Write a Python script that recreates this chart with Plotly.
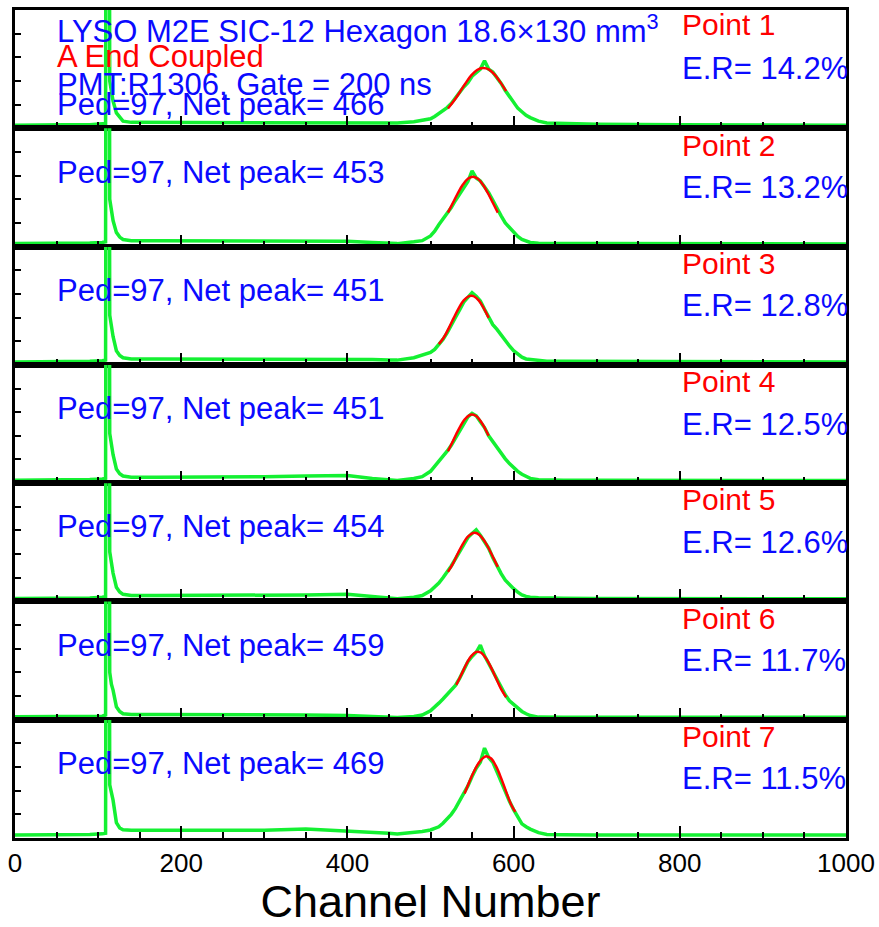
import plotly.graph_objects as go
from plotly.subplots import make_subplots

# ---------------- data ----------------
LOW_CH = [0, 30, 60, 90, 105, 109, 110, 113, 114, 116, 118, 122, 126, 130, 140, 170, 200, 250, 300, 350, 400, 430, 450]
PEAK_CH = [460, 480, 490, 500, 505, 510, 515, 520, 525, 530, 535, 540, 545, 550, 555, 560, 565, 570, 575,
           580, 585, 590, 595, 600, 605, 610, 615, 620, 630, 640, 660, 700, 800, 900, 1000]

low1 = [2.5, 3, 3, 3, 3.5, 4, 400, 400, 40, 30, 23, 13, 9, 6, 5, 5, 5, 4.5, 4.5, 4.5, 4.5, 4.5, 4.5]
low2 = [2.5, 2.5, 3, 3, 3.5, 4, 400, 400, 40, 30, 22, 12, 8, 6, 5, 5, 5, 5, 4.5, 4.5, 4.5, 3.5, 2.5]
low3 = [2.5, 2.5, 3, 3, 3.5, 4, 400, 400, 42, 32, 24, 12, 8, 6, 5, 5, 5, 5, 5, 5, 5, 4.5, 4]
low4 = [2.5, 2.5, 3, 3, 3.5, 4, 400, 400, 42, 32, 24, 12, 8, 6, 5, 5, 5, 5, 5.5, 6, 6.5, 4, 2.5]
low5 = [2.5, 2.5, 3, 3, 3.5, 4, 400, 400, 42, 32, 24, 12, 8, 6, 5, 5, 5, 5, 5, 5.5, 6, 4, 2.5]
low6 = [2.5, 2.5, 2.5, 3, 3, 4, 400, 400, 40, 30, 25, 11, 7, 5, 4.5, 4.5, 4.5, 4, 4, 4, 3.5, 2.5, 2]
low7 = [2.5, 2.5, 3, 3, 3.5, 4, 400, 400, 45, 38, 32, 13, 8.5, 7, 6.5, 6.5, 6.5, 6.5, 6.5, 7.5, 6, 5, 4]

peak1 = [4.5, 5.5, 6.5, 8, 10, 12.5, 14.5, 17.5, 21, 25.5, 31, 35, 38.5, 44, 47, 50, 57, 50, 47.5,
         43, 38, 32, 27, 21, 17, 14, 11, 9, 6, 4.5, 4, 3.5, 3, 3, 2.5]
peak2 = [2.5, 4, 5, 9, 13, 18.5, 23, 28, 33, 39, 44, 50, 55, 64, 58, 55.5, 51, 45.5, 39,
         32, 26, 20, 16, 12, 8.5, 6, 4.5, 3.5, 2.8, 2.5, 2.5, 2.5, 2.3, 2.3, 2.2]
peak3 = [4, 6, 8.5, 10.5, 13, 17, 21.5, 27, 33, 40, 46.5, 53, 57, 61, 58, 54, 47, 40, 34,
         30, 25, 20.5, 16, 12, 9, 6.5, 5, 4.5, 3.5, 3, 3, 3, 2.5, 2.5, 2.5]
peak4 = [2.3, 4, 5.5, 10, 14, 18, 22.5, 27, 32, 38, 43.5, 50, 56, 59, 57, 52, 47, 40, 35,
         30, 25, 20.5, 16.5, 13, 10, 7.5, 5.5, 4, 2.8, 2.5, 2.5, 2.5, 2.3, 2.3, 2.2]
peak5 = [2.3, 3.5, 5, 9, 12, 15.5, 20, 24.5, 30, 36, 42.5, 49, 54, 57.5, 60.5, 56, 51, 45, 37,
         29.5, 23.5, 18, 14, 10.8, 7.8, 5.5, 4.3, 3.6, 3.1, 2.8, 2.7, 2.5, 2.4, 2.3, 2.2]
peak6 = [1.9, 2.8, 4, 7.5, 10.5, 14, 17.5, 21, 24.5, 29, 35, 42, 49, 53.5, 57, 63, 54, 47.5, 41,
         34, 27, 21, 16, 13, 9.5, 7, 5, 3.5, 2.2, 2, 2, 2, 2, 2, 2]
peak7 = [3.4, 4.5, 5.5, 6.8, 8, 9.5, 12.5, 16, 20, 25, 31, 37, 44, 52, 59, 64, 76, 68, 64,
         56, 47, 40, 31, 24, 18, 12, 9.5, 7.5, 4.5, 3, 2.8, 2.5, 2.5, 2.5, 2.5]

fit1_x = [521, 528, 535, 542, 549, 556, 563, 570, 577, 584, 591]
fit1_y = [16.7, 23, 30.3, 37.9, 44.7, 49.3, 51, 49.8, 45.5, 39, 31.4]
fit2_x = [521, 527, 533, 539, 545, 551, 557, 563, 569, 575, 581]
fit2_y = [28.7, 37, 45.3, 52.4, 57.3, 59, 57.3, 52.4, 45.3, 37, 28.7]
fit3_x = [510, 516, 522, 528, 534, 540, 546, 549, 552, 558, 564, 570]
fit3_y = [17.5, 23.1, 31.1, 39.7, 48, 54.5, 58, 58.5, 58, 54.5, 48, 39.7]
fit4_x = [521, 526, 531, 536, 541, 546, 550, 555, 560, 565, 570]
fit4_y = [27, 34.1, 41.5, 48.3, 53.8, 57.1, 58, 56.7, 52.8, 47, 40]
fit5_x = [521, 527, 533, 539, 545, 553, 559, 565, 571, 576, 581]
fit5_y = [25, 32, 40.7, 48.7, 54.8, 58, 56.2, 51, 43.5, 36.4, 29.2]
fit6_x = [531, 537, 543, 549, 555, 557, 561, 567, 573, 579, 585, 591]
fit6_y = [29.5, 38, 46.9, 53.8, 57.3, 57.5, 56.6, 51.8, 44, 34.9, 25.8, 19]
fit7_x = [541, 547, 553, 559, 564, 568, 573, 579, 585, 591, 597, 602]
fit7_y = [37.5, 48, 57.3, 64.5, 68.1, 69, 67.2, 60.5, 50.6, 39.2, 28.4, 22]

points = ["Point 1", "Point 2", "Point 3", "Point 4", "Point 5", "Point 6", "Point 7"]
ped = [97, 97, 97, 97, 97, 97, 97]
net_peak = [466, 453, 451, 451, 454, 459, 469]
er = ["14.2%", "13.2%", "12.8%", "12.5%", "12.6%", "11.7%", "11.5%"]

X_TICKS = [0, 200, 400, 600, 800, 1000]

# ---------------- figure ----------------
lows = [low1, low2, low3, low4, low5, low6, low7]
peaks = [peak1, peak2, peak3, peak4, peak5, peak6, peak7]
fits = [(fit1_x, fit1_y), (fit2_x, fit2_y), (fit3_x, fit3_y), (fit4_x, fit4_y),
        (fit5_x, fit5_y), (fit6_x, fit6_y), (fit7_x, fit7_y)]

N = 7
fig = make_subplots(rows=N, cols=1, shared_xaxes=True, vertical_spacing=0)

GREEN = "rgb(20,240,50)"
RED = "rgb(255,0,0)"
BLUE = "rgb(10,10,255)"
FONT = "Liberation Sans, Arial, sans-serif"

for i in range(N):
    fig.add_trace(go.Scatter(x=LOW_CH + PEAK_CH, y=lows[i] + peaks[i], mode="lines",
                             line=dict(color=GREEN, width=3.5), showlegend=False,
                             hoverinfo="skip"), row=i + 1, col=1)
    fx, fy = fits[i]
    fig.add_trace(go.Scatter(x=fx, y=fy, mode="lines",
                             line=dict(color=RED, width=2.5, shape="spline"),
                             showlegend=False, hoverinfo="skip"), row=i + 1, col=1)

for i in range(N):
    fig.update_yaxes(range=[0, 100], showticklabels=False, ticks="inside",
                     tickvals=[20, 40, 60, 80], ticklen=6, tickwidth=2, tickcolor="black",
                     showline=True, linewidth=3, linecolor="black", mirror=True,
                     showgrid=False, zeroline=False, automargin=False, row=i + 1, col=1)
    fig.update_xaxes(range=[0, 1000], ticks="inside", tickvals=X_TICKS, ticklen=12,
                     tickwidth=2, tickcolor="black",
                     minor=dict(ticks="inside", dtick=50, ticklen=6, tickwidth=2,
                                tickcolor="black", showgrid=False),
                     showline=True, linewidth=3, linecolor="black", mirror=True,
                     showgrid=False, zeroline=False, automargin=False, row=i + 1, col=1)

fig.update_xaxes(tickfont=dict(size=26, color="black", family=FONT),
                 title=dict(text="Channel Number", font=dict(size=45, color="black", family=FONT),
                            standoff=24),
                 row=N, col=1)

PX0, PW = 15, 831
def px(xp):
    return (xp - PX0) / PW

ann = []
def add(text, x, yk, ydom, color, size=31):
    ann.append(dict(text=text, x=px(x), xref="paper", xanchor="left",
                    y=ydom, yref=("y domain" if yk == 1 else f"y{yk} domain"),
                    yanchor="middle", showarrow=False,
                    font=dict(size=size, color=color, family=FONT)))

# header in panel 1
add("LYSO M2E SIC-12 Hexagon 18.6\u00d7130 mm<sup>3</sup>", 55, 1, 0.838, BLUE)
add("A End Coupled", 55, 1, 0.61, RED)
add("PMT:R1306, Gate = 200 ns", 55, 1, 0.366, BLUE)

for i in range(N):
    k = i + 1
    ped_y = 0.205 if k == 1 else 0.63
    add(f"Ped={ped[i]}, Net peak= {net_peak[i]}", 55, k, ped_y, BLUE)
    add(points[i], 680, k, 0.878 if k == 1 else 0.858, RED, 30)
    add(f"E.R= {er[i]}", 680, k, 0.503 if k == 1 else 0.50, BLUE)

fig.update_layout(width=879, height=927, margin=dict(l=15, r=33, t=10, b=89),
                  paper_bgcolor="white", plot_bgcolor="white", annotations=ann,
                  font=dict(family=FONT))

fig.write_html("out.html")
